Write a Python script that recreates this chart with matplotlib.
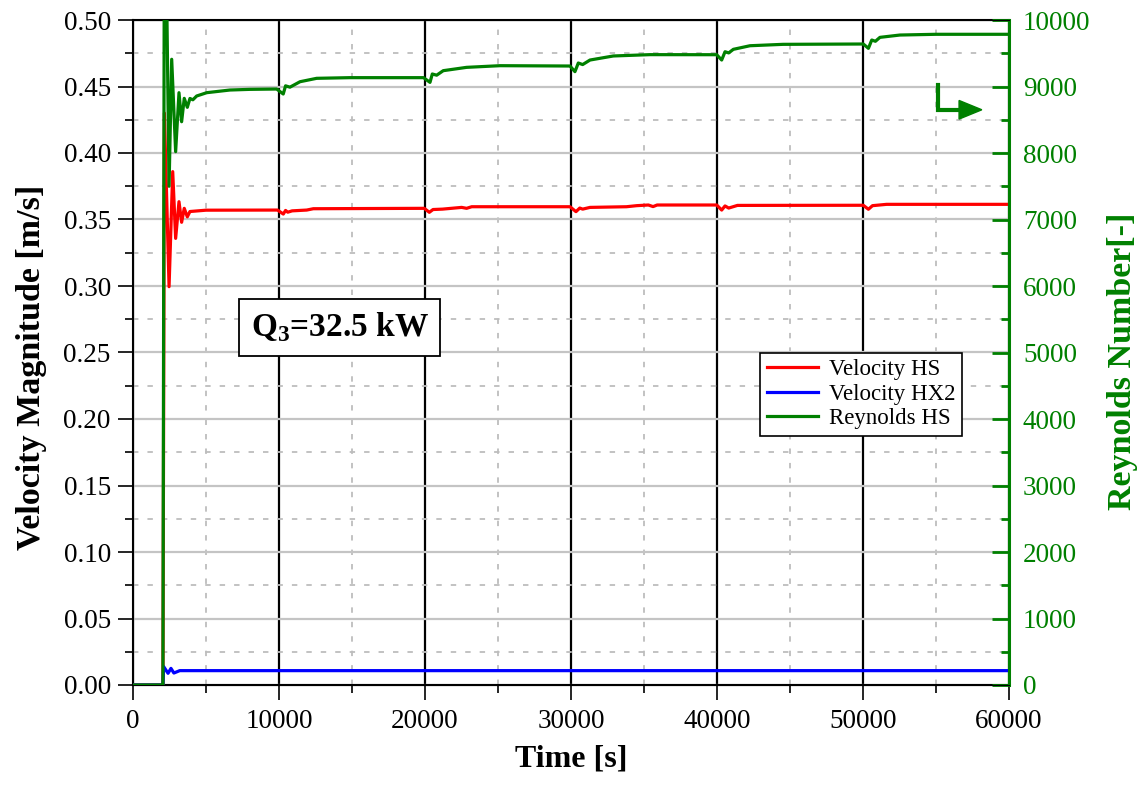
import matplotlib
matplotlib.use("Agg")
import matplotlib.pyplot as plt
from matplotlib.ticker import MultipleLocator
from matplotlib.lines import Line2D
from matplotlib.patches import Polygon

plt.rcParams['font.family'] = ['Liberation Serif', 'DejaVu Serif']
plt.rcParams['mathtext.fontset'] = 'custom'
plt.rcParams['mathtext.rm'] = 'Liberation Serif'
plt.rcParams['mathtext.bf'] = 'Liberation Serif:bold'

# ---- data ----
t_re = [0, 2000, 2050, 2150, 2300, 2470, 2650, 2920, 3150, 3330, 3510, 3720, 3900, 4100,
        4360, 5050, 6640, 8000, 9840, 10290, 10450, 10750, 11440, 12580, 14860, 19900,
        20342, 20500, 20800, 21250, 22850, 25140, 29930, 30270, 30500, 30800, 31300, 32900,
        35410, 39980, 40320, 40550, 40800, 41120, 42260, 44520, 50020, 50370, 50600, 50850,
        51160, 52530, 55000, 60000]
re_hs = [0, 0, 0, 12000, 10500, 7500, 9409, 8020, 8907, 8470, 8822, 8687, 8820, 8800,
         8857, 8907, 8947, 8957, 8962, 8887, 9010, 8990, 9072, 9123, 9133, 9133,
         9062, 9188, 9170, 9238, 9288, 9313, 9308, 9223, 9353, 9330, 9398, 9459,
         9479, 9478, 9398, 9523, 9505, 9559, 9613, 9634, 9639, 9574, 9699, 9680,
         9739, 9774, 9785, 9785]

t_vhs = [0, 2000, 2050, 2150, 2470, 2720, 2920, 3150, 3330, 3510, 3720, 3900, 5000, 9900,
         10295, 10450, 10600, 10900, 11900, 12350, 19950, 20295, 20550, 21200, 22510, 22850,
         23200, 29930, 30340, 30600, 30800, 31300, 33800, 34500, 35300, 35620, 35900, 39980,
         40320, 40550, 40800, 41400, 50020, 50370, 50650, 51620, 60000]
v_hs = [0, 0, 0, 0.430, 0.2995, 0.386, 0.3358, 0.3634, 0.3479, 0.3584, 0.352, 0.356, 0.357, 0.3571,
        0.3541, 0.3568, 0.3555, 0.3565, 0.3571, 0.3581, 0.3584, 0.3554, 0.3575, 0.3578, 0.3591, 0.3584,
        0.3596, 0.3596, 0.3559, 0.3586, 0.3578, 0.3591, 0.3596, 0.3604, 0.3609, 0.3597, 0.3609, 0.3609,
        0.3571, 0.3602, 0.3586, 0.3606, 0.3607, 0.3577, 0.3604, 0.3614, 0.3614]

t_vhx = [0, 2000, 2050, 2100, 2400, 2600, 2800, 3200, 60000]
v_hx2 = [0, 0, 0, 0.0138, 0.0088, 0.0125, 0.0090, 0.0108, 0.0108]

x_ticks = [0, 10000, 20000, 30000, 40000, 50000, 60000]
labels = ["Velocity HS", "Velocity HX2", "Reynolds HS"]
annotation = r"$\mathbf{Q}_{\mathbf{3}}$=32.5 kW"

# ---- figure ----
fig = plt.figure(figsize=(11.39, 7.85), dpi=100)
ax = fig.add_axes([133/1139, 1-685/785, 876/1139, 665/785])
ax2 = ax.twinx()

green = '#008000'
lw = 2.3
l1, = ax.plot(t_vhs, v_hs, color='#ff0000', lw=lw, zorder=3)
l2, = ax.plot(t_vhx, v_hx2, color='#0000ff', lw=lw, zorder=3)
l3, = ax2.plot(t_re, re_hs, color=green, lw=lw, zorder=3)

ax.set_xlim(0, 60000)
ax.set_ylim(0, 0.5)
ax2.set_ylim(0, 10000)

ax.set_xticks(x_ticks)
ax.xaxis.set_minor_locator(MultipleLocator(5000))
ax.yaxis.set_major_locator(MultipleLocator(0.05))
ax.yaxis.set_minor_locator(MultipleLocator(0.025))
ax.yaxis.set_major_formatter(matplotlib.ticker.FormatStrFormatter('%.2f'))
ax2.yaxis.set_major_locator(MultipleLocator(1000))
ax2.yaxis.set_minor_locator(MultipleLocator(500))

# grid
ax.set_axisbelow(True)
ax.grid(True, which='major', axis='y', color='#c4c4c4', lw=1.6, ls='-')
ax.grid(True, which='minor', axis='y', color='#bdbdbd', lw=1.3, ls=(0, (3, 5)))
ax.grid(True, which='major', axis='x', color='black', lw=1.6, ls='-')
ax.grid(True, which='minor', axis='x', color='#bdbdbd', lw=1.3, ls=(0, (3, 5)))

fs = 19.5
ax.tick_params(axis='both', which='major', direction='out', length=11, width=1.2,
               labelsize=fs, pad=5)
ax.tick_params(axis='both', which='minor', direction='out', length=6, width=1.2)
ax.tick_params(axis='x', which='major', pad=6)
ax2.tick_params(axis='y', which='major', direction='in', length=12, width=2,
                colors=green, labelsize=fs, pad=10)
ax2.tick_params(axis='y', which='minor', direction='in', length=6, width=2, colors=green)

for s in ['left', 'bottom', 'top']:
    ax.spines[s].set_linewidth(1.5)
ax2.spines['right'].set_color(green)
ax2.spines['right'].set_linewidth(2.2)
ax2.spines['left'].set_visible(False)
ax.spines['right'].set_visible(False)

ax.set_xlabel("Time [s]", fontsize=23, fontweight='bold', labelpad=8)
ax.set_ylabel("Velocity Magnitude [m/s]", fontsize=24.5, fontweight='bold', labelpad=12)
ax2.set_ylabel("Reynolds Number[-]", fontsize=24.5, fontweight='bold', color=green,
               labelpad=12)
ax.yaxis.label.set_y(0.478)
ax2.yaxis.label.set_y(0.486)

leg = ax2.legend([l1, l2, l3], labels, loc='upper left', bbox_to_anchor=(0.716, 0.5),
                 fontsize=16.5, frameon=True, fancybox=False, edgecolor='black',
                 framealpha=1, borderpad=0.3, handlelength=2.2, handletextpad=0.5,
                 labelspacing=0.15, borderaxespad=0)
leg.get_frame().set_linewidth(1.2)

ax2.text(0.236, 0.538, annotation, transform=ax2.transAxes, fontsize=24,
         fontweight='bold', ha='center', va='center',
         bbox=dict(boxstyle='square,pad=0.35', fc='white', ec='black', lw=1.3))

# green L-shaped arrow marker
ax2.add_line(Line2D([0.919, 0.919, 0.945], [0.902, 0.865, 0.865],
                    transform=ax2.transAxes, color=green, lw=3, solid_joinstyle='miter',
                    zorder=5))
ax2.add_patch(Polygon([[0.943, 0.879], [0.943, 0.851], [0.969, 0.865]], closed=True,
                      transform=ax2.transAxes, color=green, zorder=5))

fig.savefig("out.png", dpi=100)
